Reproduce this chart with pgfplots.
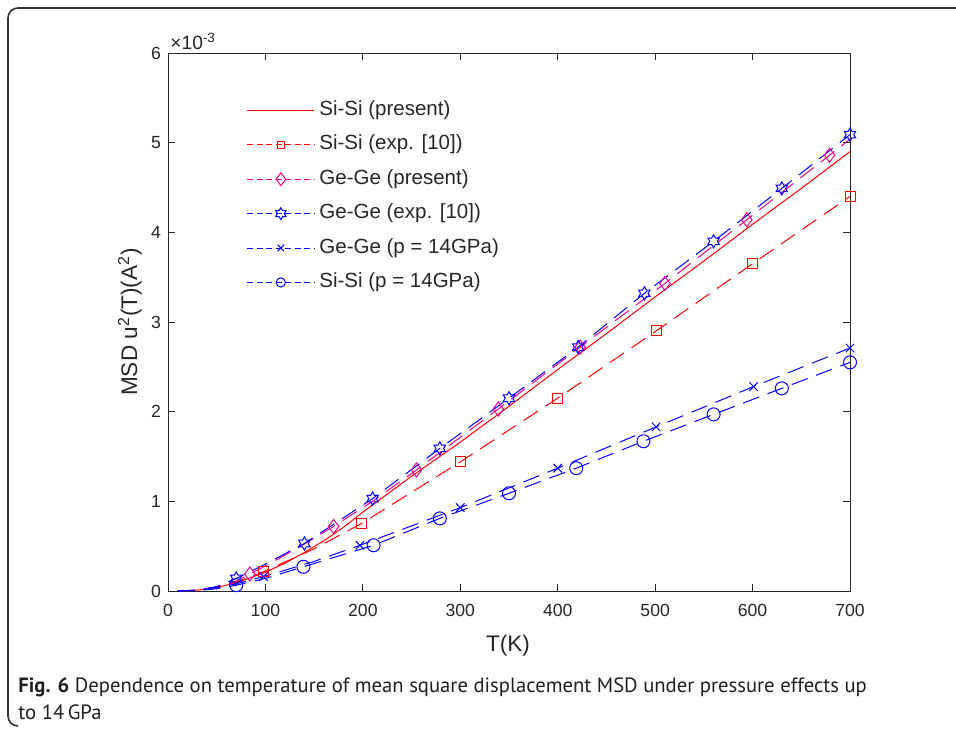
\documentclass[border=0pt]{standalone}
\usepackage{fontspec}
\setmainfont{Liberation Sans}
\newfontfamily\capfont{PT Sans}
\usepackage{pgfplots}
\pgfplotsset{compat=1.18}
\usetikzlibrary{plotmarks}
\definecolor{axgray}{RGB}{38,38,38}
\definecolor{capgray}{RGB}{35,31,32}
\pgfdeclareplotmark{hexagram}{%
  \pgfpathmoveto{\pgfpointpolar{90}{\pgfplotmarksize}}%
  \pgfpathlineto{\pgfpointpolar{120}{0.577\pgfplotmarksize}}%
  \pgfpathlineto{\pgfpointpolar{150}{\pgfplotmarksize}}%
  \pgfpathlineto{\pgfpointpolar{180}{0.577\pgfplotmarksize}}%
  \pgfpathlineto{\pgfpointpolar{210}{\pgfplotmarksize}}%
  \pgfpathlineto{\pgfpointpolar{240}{0.577\pgfplotmarksize}}%
  \pgfpathlineto{\pgfpointpolar{270}{\pgfplotmarksize}}%
  \pgfpathlineto{\pgfpointpolar{300}{0.577\pgfplotmarksize}}%
  \pgfpathlineto{\pgfpointpolar{330}{\pgfplotmarksize}}%
  \pgfpathlineto{\pgfpointpolar{0}{0.577\pgfplotmarksize}}%
  \pgfpathlineto{\pgfpointpolar{30}{\pgfplotmarksize}}%
  \pgfpathlineto{\pgfpointpolar{60}{0.577\pgfplotmarksize}}%
  \pgfpathclose\pgfusepathqstroke}
\tikzset{plotdash/.style={dash pattern=on 8.5pt off 4.5pt},
         legdash/.style={dash pattern=on 3pt off 1.75pt}}
\begin{document}
\begin{tikzpicture}
\useasboundingbox (0pt,0pt) rectangle (478pt,-365.5pt);
\draw[line width=0.8pt, black!80, rounded corners=5pt] (482pt,-4pt) -- (4pt,-4pt) -- (4pt,-363pt) -- (9pt,-363pt);
\begin{axis}[
  at={(84pt,-295.5pt)}, anchor=south west, scale only axis,
  width=341pt, height=269pt,
  xmin=0, xmax=700, ymin=0, ymax=6,
  xtick={0,100,...,700}, ytick={0,1,...,6},
  tick align=inside, major tick length=3.5pt,
  axis line style={axgray, line width=0.4pt},
  tick style={axgray, line width=0.4pt},
  ticklabel style={font=\fontsize{8.8}{10}\selectfont, text=axgray},
  xticklabel style={yshift=-3pt},
  /pgf/number format/assume math mode=true,
  scaled ticks=false, clip=false,
  xlabel={T(K)},
  ylabel={MSD u\textsuperscript{2}(T)(A\textsuperscript{2})},
  label style={font=\fontsize{11.3}{13}\selectfont, text=axgray},
  xlabel style={at={(axis description cs:0.4985,-0.102)}, anchor=center},
  ylabel style={at={(axis description cs:-0.0557,0.5)}, anchor=center},
  legend image code/.code={\draw[mark repeat=2,mark phase=2,#1] plot coordinates {(0pt,0pt) (16.75pt,0pt) (33.5pt,0pt)};},
  legend cell align=left,
  legend style={at={(0.115,0.9126)}, anchor=north west, draw=none, fill=none,
    inner sep=0pt, row sep=7.2pt, font=\fontsize{10.25}{12}\selectfont, text=axgray,
    nodes={inner xsep=2.3pt, inner ysep=0pt, text height=7.5pt, text depth=2.5pt}},
]
% Si-Si present
\addplot[red, line width=0.5pt, forget plot] coordinates {
(10,0) (20,0.003) (30,0.01) (40,0.022) (50,0.04) (60,0.065) (70,0.095) (80,0.13) (90,0.17)
(100,0.21) (120,0.31) (140,0.43) (160,0.56) (180,0.71) (200,0.88) (250,1.28) (300,1.66)
(350,2.06) (400,2.47) (450,2.87) (500,3.28) (550,3.68) (600,4.09) (650,4.49) (700,4.90)};
% Si-Si exp
\addplot[red, line width=0.5pt, plotdash, forget plot] coordinates {
(10,0) (30,0.01) (50,0.04) (70,0.1) (98,0.215) (150,0.47) (199,0.755) (300,1.44)
(400,2.15) (501,2.9) (600,3.65) (700,4.4)};
\addplot[red, only marks, mark=square, mark size=2.5pt, line width=0.5pt, mark options={draw=red}, forget plot] coordinates {
(98,0.215) (199,0.755) (300,1.44) (400,2.15) (501,2.9) (600,3.65) (700,4.4)};
% Ge-Ge present
\addplot[magenta, line width=0.5pt, plotdash, forget plot] coordinates {
(10,0) (30,0.01) (50,0.045) (70,0.11) (84,0.19) (100,0.28) (130,0.46) (170,0.72) (210,1.0)
(255,1.35) (339,2.03) (423,2.72) (510,3.43) (594,4.14) (679,4.86) (700,5.04)};
\addplot[magenta, only marks, mark=diamond, mark size=3.5pt, line width=0.5pt, mark options={draw=magenta}, forget plot] coordinates {
(84,0.19) (170,0.72) (255,1.35) (339,2.03) (423,2.72) (510,3.43) (594,4.14) (679,4.86)};
% Ge-Ge exp
\addplot[blue, line width=0.5pt, plotdash, forget plot] coordinates {
(10,0) (30,0.01) (50,0.05) (70,0.14) (100,0.3) (140,0.53) (210,1.03) (279,1.59) (350,2.15)
(421,2.72) (489,3.32) (560,3.9) (630,4.49) (700,5.09)};
\addplot[blue, only marks, mark=hexagram, mark size=3.3pt, line width=0.5pt, mark options={draw=blue}, forget plot] coordinates {
(70,0.14) (140,0.53) (210,1.03) (279,1.59) (350,2.15) (421,2.72) (489,3.32) (560,3.9) (630,4.49) (700,5.09)};
% Ge-Ge p=14GPa
\addplot[blue, line width=0.5pt, plotdash, forget plot] coordinates {
(10,0) (30,0.008) (50,0.035) (70,0.08) (98,0.16) (150,0.33) (197,0.51) (300,0.93)
(400,1.37) (501,1.83) (601,2.28) (700,2.71)};
\addplot[blue, only marks, mark=x, mark size=3pt, line width=0.5pt, forget plot] coordinates {
(98,0.16) (197,0.51) (300,0.93) (400,1.37) (501,1.83) (601,2.28) (700,2.71)};
% Si-Si p=14GPa
\addplot[blue, line width=0.5pt, plotdash, forget plot] coordinates {
(10,0) (30,0.006) (50,0.025) (70,0.065) (100,0.14) (139,0.27) (211,0.51) (279,0.81)
(350,1.09) (419,1.37) (488,1.67) (560,1.97) (630,2.26) (700,2.55)};
\addplot[blue, only marks, mark=o, mark size=3.25pt, line width=0.5pt, mark options={draw=blue}, forget plot] coordinates {
(70,0.065) (139,0.27) (211,0.51) (279,0.81) (350,1.09) (419,1.37) (488,1.67) (560,1.97) (630,2.26) (700,2.55)};
% legend
\addlegendimage{red, line width=0.5pt}
\addlegendentry{Si-Si (present)}
\addlegendimage{red, line width=0.5pt, legdash, mark=square, mark size=1.8pt, mark options={solid, draw=red}}
\addlegendentry{Si-Si (exp. [10])}
\addlegendimage{magenta, line width=0.5pt, legdash, mark=diamond, mark size=3.2pt, mark options={solid, draw=magenta}}
\addlegendentry{Ge-Ge (present)}
\addlegendimage{blue, line width=0.5pt, legdash, mark=hexagram, mark size=3pt, mark options={solid, draw=blue}}
\addlegendentry{Ge-Ge (exp. [10])}
\addlegendimage{blue, line width=0.5pt, legdash, mark=x, mark size=2.3pt, mark options={solid, draw=blue}}
\addlegendentry{Ge-Ge (p = 14GPa)}
\addlegendimage{blue, line width=0.5pt, legdash, mark=o, mark size=2.3pt, mark options={solid, draw=blue}}
\addlegendentry{Si-Si (p = 14GPa)}
\node[anchor=south west, inner sep=0pt, font=\fontsize{9.6}{10}\selectfont, text=axgray]
  at (rel axis cs:0.003,1.0056) {×10\textsuperscript{-3}};
\end{axis}
\node[anchor=base west, inner sep=0pt, font=\capfont\fontsize{10.34}{12}\selectfont, text=capgray]
  at (9pt,-346pt) {\textbf{Fig. 6} Dependence on temperature of mean square displacement MSD under pressure effects up};
\node[anchor=base west, inner sep=0pt, font=\capfont\fontsize{10.34}{12}\selectfont, text=capgray]
  at (9pt,-359.5pt) {to 14\,GPa};
\end{tikzpicture}
\end{document}
